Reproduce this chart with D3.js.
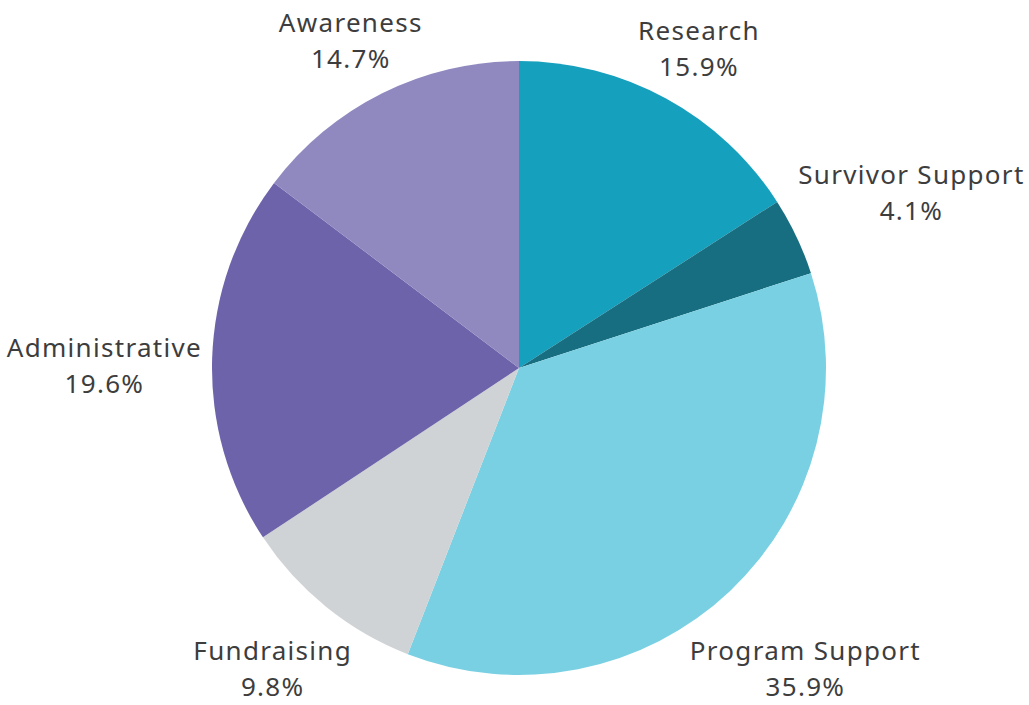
<!DOCTYPE html>
<html>
<head>
  <meta charset="utf-8">
  <title>Budget Allocation</title>
  <script src="https://cdnjs.cloudflare.com/ajax/libs/d3/7.8.5/d3.min.js"></script>
  <style>
    body { margin: 0; background: #fff; }
    .label {
      font-family: "Noto Sans", sans-serif;
      font-size: 26px;
      letter-spacing: 1.3px;
      fill: #3d3d3d;
      text-anchor: middle;
    }
  </style>
</head>
<body>
  <script>
    var categories = ["Research", "Survivor Support", "Program Support", "Fundraising", "Administrative", "Awareness"];
    var percents = [15.9, 4.1, 35.9, 9.8, 19.6, 14.7];
    var colors = ["#15a0be", "#166e80", "#7ad0e3", "#d0d3d5", "#6d63aa", "#8f89c0"];

    var width = 1029, height = 705;
    var cx = 519, cy = 368, radius = 307;
    var gap = 10, lineH = 36, shiftY = 10;

    var data = categories.map((c, i) => ({ name: c, value: percents[i], color: colors[i] }));

    var svg = d3.select("body").append("svg")
        .attr("width", width)
        .attr("height", height);

    var g = svg.append("g")
        .attr("transform", "translate(" + cx + "," + cy + ")");

    var pie = d3.pie().sort(null).value(d => d.value);
    var arc = d3.arc().innerRadius(0).outerRadius(radius);
    var arcs = pie(data);

    g.selectAll("path")
      .data(arcs)
      .enter().append("path")
        .attr("d", arc)
        .attr("fill", d => d.data.color);

    // distance from origin to an axis-aligned box
    function boxDist(x, y, hw, hh) {
      var dx = Math.max(Math.abs(x) - hw, 0);
      var dy = Math.max(Math.abs(y) - hh, 0);
      return Math.sqrt(dx * dx + dy * dy);
    }

    var labels = g.selectAll("text.label")
      .data(arcs)
      .enter().append("text")
        .attr("class", "label");

    labels.append("tspan").attr("x", 0).attr("dy", 0).text(d => d.data.name);
    labels.append("tspan").attr("x", 0).attr("dy", lineH).text(d => d.data.value.toFixed(1) + "%");

    labels.each(function(d) {
      var t = d3.select(this);
      var bb = this.getBBox();
      var hw = bb.width / 2, hh = bb.height / 2;
      var mid = (d.startAngle + d.endAngle) / 2;
      var sx = Math.sin(mid), sy = -Math.cos(mid);
      var lo = 0, hi = 800;
      for (var k = 0; k < 40; k++) {
        var m = (lo + hi) / 2;
        if (boxDist(sx * m, sy * m, hw, hh) < radius + gap) lo = m; else hi = m;
      }
      var bx = sx * hi, by = sy * hi + shiftY;
      // keep the label inside the picture
      by = Math.max(by, -cy + hh + 2);
      by = Math.min(by, height - cy - hh - 1);
      var ox = bx - (bb.x + hw), oy = by - (bb.y + hh);
      t.attr("transform", "translate(" + ox + "," + oy + ")");
    });
  </script>
</body>
</html>
